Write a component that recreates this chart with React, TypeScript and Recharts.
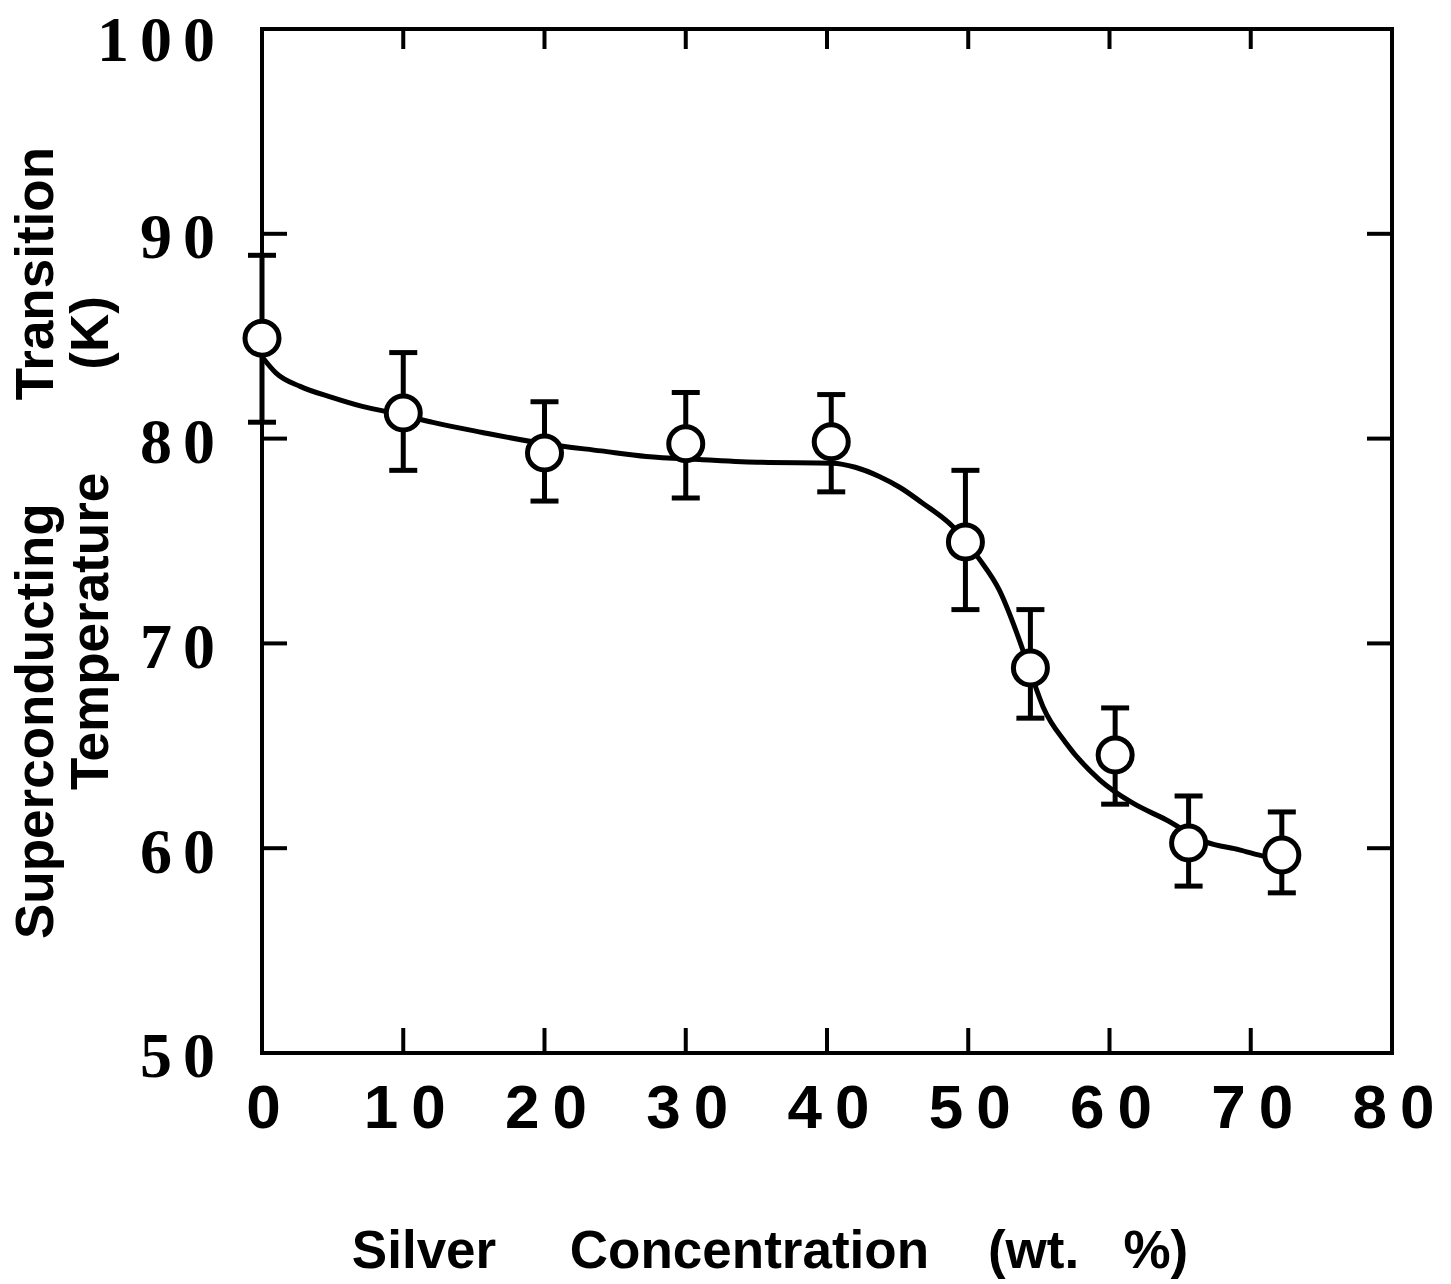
import React from 'react';
import { ComposedChart, XAxis, YAxis, Line, Scatter, ErrorBar, Label } from 'recharts';

// Measured data points (silver wt.% vs Tc in K)
const pointX = [0, 10, 20, 30, 40.3, 49.8, 54.4, 60.4, 65.6, 72.2];
const pointTc = [84.9, 81.25, 79.3, 79.75, 79.85, 74.95, 68.8, 64.55, 60.25, 59.67];
const errLow = [4.1, 2.8, 2.35, 2.65, 2.45, 3.3, 2.45, 2.4, 2.1, 1.85];
const errHigh = [4.05, 2.95, 2.5, 2.5, 2.3, 3.5, 2.85, 2.3, 2.3, 2.1];

// Hand-drawn fitted curve
const curveX = [0, 1, 2.7, 5, 7.1, 10, 12.1, 15.6, 20, 24, 27.2, 31, 35.4, 40.4, 42, 43.7, 45.2, 46.7, 48.9, 50.8, 52.2, 53.6, 54.4, 55.3, 56.9, 59.3, 61.6, 64, 66.8, 69.2, 71.1, 72.2];
const curveTc = [84.0, 83.2, 82.55, 82.0, 81.57, 81.15, 80.79, 80.3, 79.75, 79.4, 79.13, 78.98, 78.84, 78.8, 78.6, 78.15, 77.6, 76.88, 75.71, 74.1, 72.6, 70.2, 68.6, 66.9, 65.15, 63.34, 62.22, 61.39, 60.31, 59.92, 59.58, 59.45];

const xTicks = [0, 10, 20, 30, 40, 50, 60, 70, 80];
const yTicks = [50, 60, 70, 80, 90, 100];

const xTitle = 'Silver     Concentration    (wt.   %)';
const yTitleLine1 = 'Superconducting       Transition';
const yTitleLine2 = 'Temperature       (K)';

const points = pointX.map((x, i) => ({ x, y: pointTc[i], err: [errLow[i], errHigh[i]] }));
const curve = curveX.map((x, i) => ({ x, y: curveTc[i] }));

const SANS = "'Liberation Sans', Arial, Helvetica, sans-serif";
const SERIF = "'Liberation Serif', 'Times New Roman', serif";
const axisStyle = { stroke: '#000', strokeWidth: 4, strokeLinecap: 'square' as const };

const BottomTick = (props: any) => {
  const { x, y, payload } = props;
  return (
    <g>
      <line x1={x} y1={y} x2={x} y2={y - 25} stroke="#000" strokeWidth={4} />
      <text
        x={x}
        y={y + 31}
        dx={8}
        dy="0.71em"
        textAnchor="middle"
        fontFamily={SANS}
        fontWeight="bold"
        fontSize={62}
        letterSpacing={13}
        fill="#000"
      >
        {payload.value}
      </text>
    </g>
  );
};

const TopTick = (props: any) => {
  const { x, y } = props;
  return <line x1={x} y1={y} x2={x} y2={y + 20} stroke="#000" strokeWidth={4} />;
};

const LeftTick = (props: any) => {
  const { x, y, payload } = props;
  const shift = payload.value === 100 ? 10 : 2;
  return (
    <g>
      <line x1={x} y1={y} x2={x + 25} y2={y} stroke="#000" strokeWidth={4} />
      <text
        x={x - 36}
        y={y + shift}
        dy="0.35em"
        textAnchor="end"
        fontFamily={SERIF}
        fontWeight="bold"
        fontSize={64}
        letterSpacing={11}
        fill="#000"
      >
        {payload.value}
      </text>
    </g>
  );
};

const RightTick = (props: any) => {
  const { x, y } = props;
  return <line x1={x} y1={y} x2={x - 25} y2={y} stroke="#000" strokeWidth={4} />;
};

const Marker = (props: any) => {
  const { cx, cy } = props;
  if (cx == null || cy == null) return null;
  return <circle cx={cx} cy={cy} r={17} fill="#fff" stroke="#000" strokeWidth={5} />;
};

const XTitle = (props: any) => {
  const vb = props.viewBox || { x: 262, y: 1053, width: 1130, height: 60 };
  return (
    <text
      x={vb.x + vb.width / 2 - 57}
      y={vb.y + 215}
      textAnchor="middle"
      fontFamily={SANS}
      fontWeight="bold"
      fontSize={53}
      fill="#000"
      style={{ whiteSpace: 'pre' }}
      xmlSpace="preserve"
    >
      {xTitle}
    </text>
  );
};

const YTitle = (props: any) => {
  const vb = props.viewBox || { x: 162, y: 29, width: 100, height: 1024 };
  const cy = vb.y + vb.height / 2 + 2;
  const x1 = vb.x - 109;
  const x2 = vb.x - 54;
  const common = {
    textAnchor: 'middle' as const,
    fontFamily: SANS,
    fontWeight: 'bold',
    fontSize: 53,
    fill: '#000',
    style: { whiteSpace: 'pre' as const },
    xmlSpace: 'preserve',
  };
  return (
    <g>
      <text x={x1} y={cy} transform={`rotate(-90, ${x1}, ${cy})`} {...common}>
        {yTitleLine1}
      </text>
      <text x={x2} y={cy} transform={`rotate(-90, ${x2}, ${cy})`} {...common}>
        {yTitleLine2}
      </text>
    </g>
  );
};

export default function App() {
  return (
    <div style={{ position: 'absolute', left: 0, top: 0, width: 1451, height: 1284, background: '#fff' }}>
      <ComposedChart width={1451} height={1284} margin={{ top: 28, right: 58, bottom: 171, left: 162 }}>
        <XAxis
          xAxisId="b"
          type="number"
          dataKey="x"
          domain={[0, 80]}
          ticks={xTicks}
          interval={0}
          orientation="bottom"
          height={60}
          tickSize={0}
          tickMargin={0}
          tickLine={false}
          axisLine={axisStyle}
          tick={(p: any) => <BottomTick {...p} />}
        >
          <Label content={(p: any) => <XTitle {...p} />} />
        </XAxis>
        <XAxis
          xAxisId="t"
          type="number"
          dataKey="x"
          domain={[0, 80]}
          ticks={xTicks}
          interval={0}
          orientation="top"
          height={1}
          tickSize={0}
          tickMargin={0}
          tickLine={false}
          axisLine={axisStyle}
          tick={(p: any) => <TopTick {...p} />}
        />
        <YAxis
          yAxisId="l"
          type="number"
          domain={[50, 100]}
          ticks={yTicks}
          interval={0}
          orientation="left"
          width={100}
          tickSize={0}
          tickMargin={0}
          tickLine={false}
          axisLine={axisStyle}
          tick={(p: any) => <LeftTick {...p} />}
        >
          <Label content={(p: any) => <YTitle {...p} />} />
        </YAxis>
        <YAxis
          yAxisId="r"
          type="number"
          domain={[50, 100]}
          ticks={yTicks}
          interval={0}
          orientation="right"
          width={1}
          tickSize={0}
          tickMargin={0}
          tickLine={false}
          axisLine={axisStyle}
          tick={(p: any) => <RightTick {...p} />}
        />
        <Line
          xAxisId="b"
          yAxisId="r"
          data={curve}
          dataKey="y"
          type="monotone"
          stroke="#000"
          strokeWidth={5}
          dot={false}
          activeDot={false}
          isAnimationActive={false}
        />
        <Scatter
          xAxisId="t"
          yAxisId="l"
          data={points}
          dataKey="y"
          shape={(p: any) => <Marker {...p} />}
          isAnimationActive={false}
        >
          <ErrorBar dataKey="err" direction="y" width={14} strokeWidth={5} stroke="#000" isAnimationActive={false} />
        </Scatter>
      </ComposedChart>
    </div>
  );
}
